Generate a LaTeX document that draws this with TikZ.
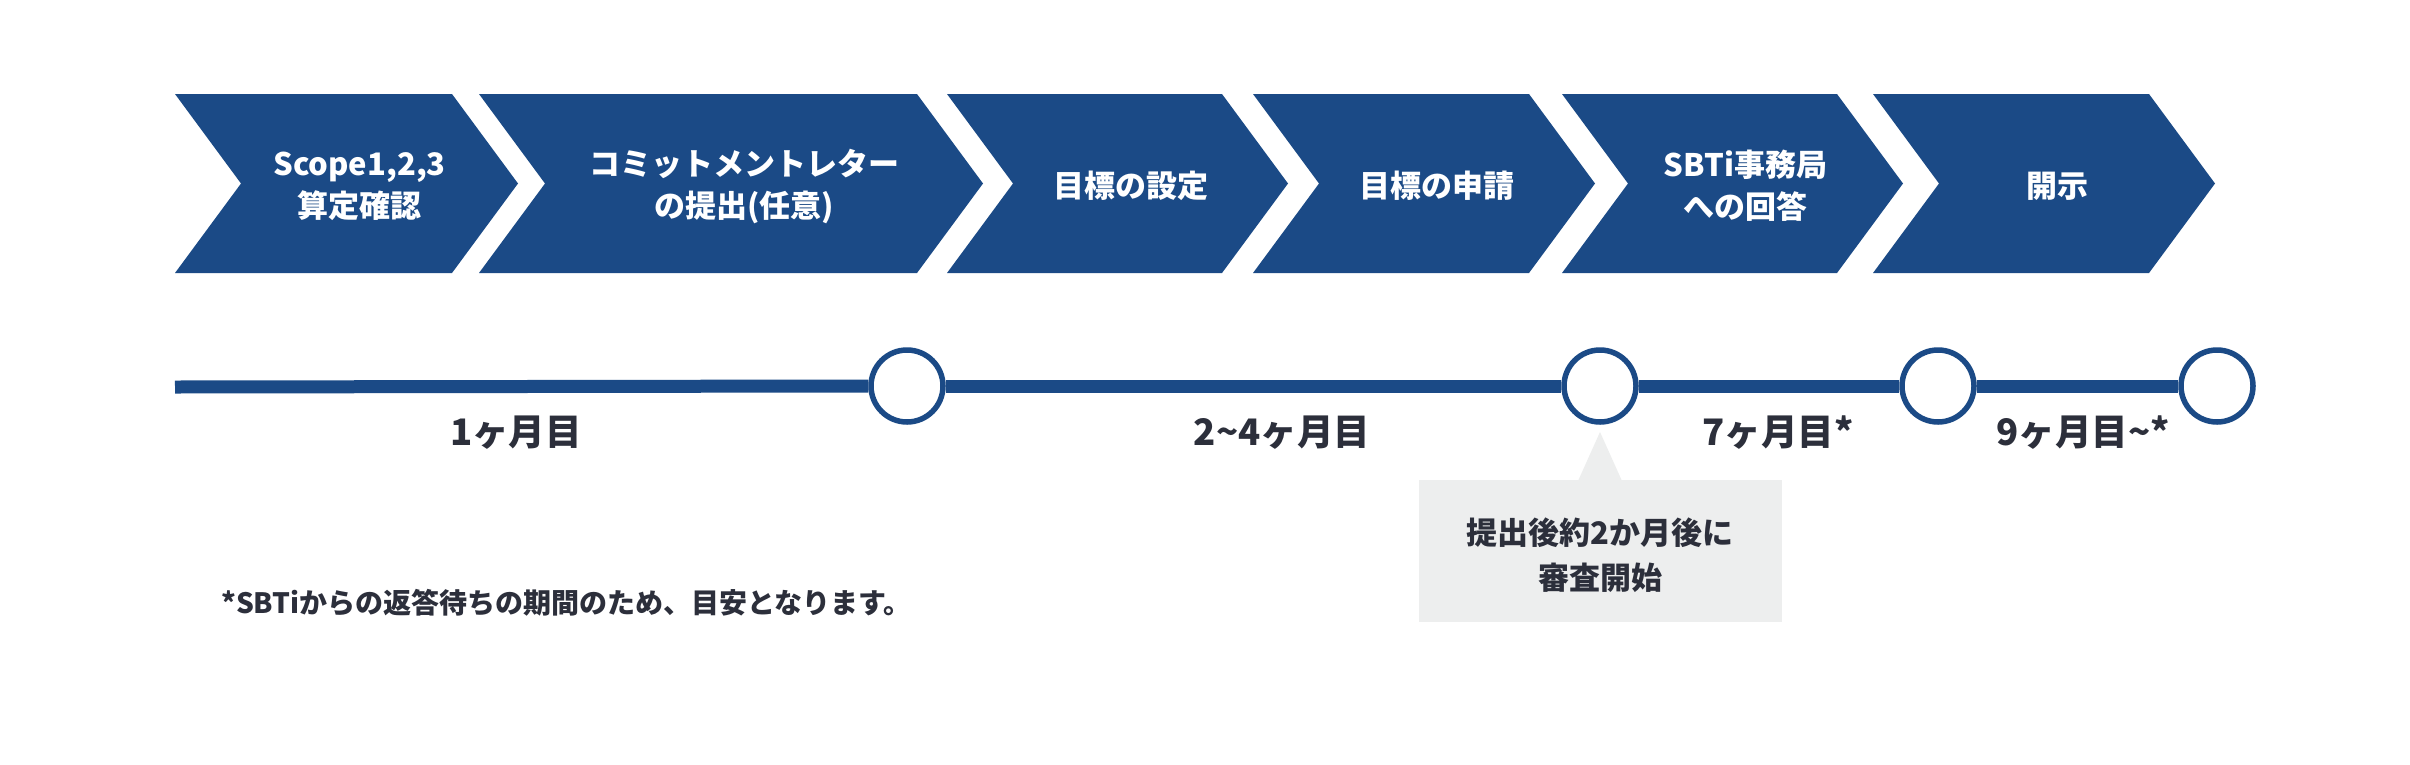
\documentclass[tikz,border=0pt]{standalone}
\usepackage{fontspec}
\setmainfont{Noto Sans CJK JP}
\definecolor{navy}{HTML}{1B4A86}
\definecolor{ink}{HTML}{2C2F3B}
\definecolor{callgray}{HTML}{EDEEEE}
\tikzset{
  chevtext/.style={text=white,font=\fontsize{31}{42}\selectfont\bfseries,align=center,inner sep=0pt},
  monthlabel/.style={text=ink,font=\fontsize{36.5}{42}\selectfont\bfseries,inner sep=0pt},
  milestone/.style={circle,draw=navy,line width=5.5pt,fill=white,minimum size=72pt,inner sep=0pt},
  calltext/.style={text=ink,font=\fontsize{31}{45}\selectfont\bfseries,align=center,inner sep=0pt},
  tline/.style={navy,line width=13pt}
}
\newcommand{\chev}[4]{%
  \fill[navy] (#1,94) -- (#2,94) -- ({#2+66},183.5) -- (#2,273) -- (#1,273) -- ({#1+66},183.5) -- cycle;
  \node[chevtext] (#3) at ({(#1+66+#2)/2+13},186) {#4};
}
\begin{document}
\begin{tikzpicture}[x=1pt,y=-1pt]
\useasboundingbox (0,0) rectangle (2410,764);
\fill[white] (0,0) rectangle (2410,764);
% chevrons
\chev{175}{452}{s1}{Scope1,2,3\\算定確認}
\chev{479}{917}{s2}{コミットメントレター\\の提出(任意)}
\chev{947}{1222}{s3}{目標の設定}
\chev{1253}{1529}{s4}{目標の申請}
\chev{1562}{1837}{s5}{SBTi事務局\\への回答}
\chev{1873}{2149}{s6}{開示}
% timeline
\coordinate (t0) at (175,387);
\node[milestone] (m1) at (907,386) {};
\node[milestone] (m2) at (1600,386) {};
\node[milestone] (m3) at (1938,386) {};
\node[milestone] (m4) at (2217,386) {};
\draw[tline] (t0) -- (m1.west);
\draw[tline] (m1.east) -- (m2.west);
\draw[tline] (m2.east) -- (m3.west);
\draw[tline] (m3.east) -- (m4.west);
% month labels
\node[monthlabel] (l1) at (516,433) {1ヶ月目};
\node[monthlabel] (l2) at (1282,433) {2\char"007E 4ヶ月目};
\node[monthlabel] (l3) at (1778,433) {7ヶ月目*};
\node[monthlabel] (l4) at (2083,433) {9ヶ月目\char"007E*};
% callout
\fill[callgray] (1419,480) rectangle (1782,622);
\coordinate (apex) at (1600,432);
\fill[callgray] (apex) -- (1622,481) -- (1578,481) -- cycle;
\node[calltext] (c1) at (1600,555) {提出後約2か月後に\\審査開始};
% footnote
\node[text=ink,font=\fontsize{28}{34}\selectfont\bfseries,anchor=west,inner sep=0pt] (fn) at (221,603) {*SBTiからの返答待ちの期間のため、目安となります。};
\end{tikzpicture}
\end{document}
